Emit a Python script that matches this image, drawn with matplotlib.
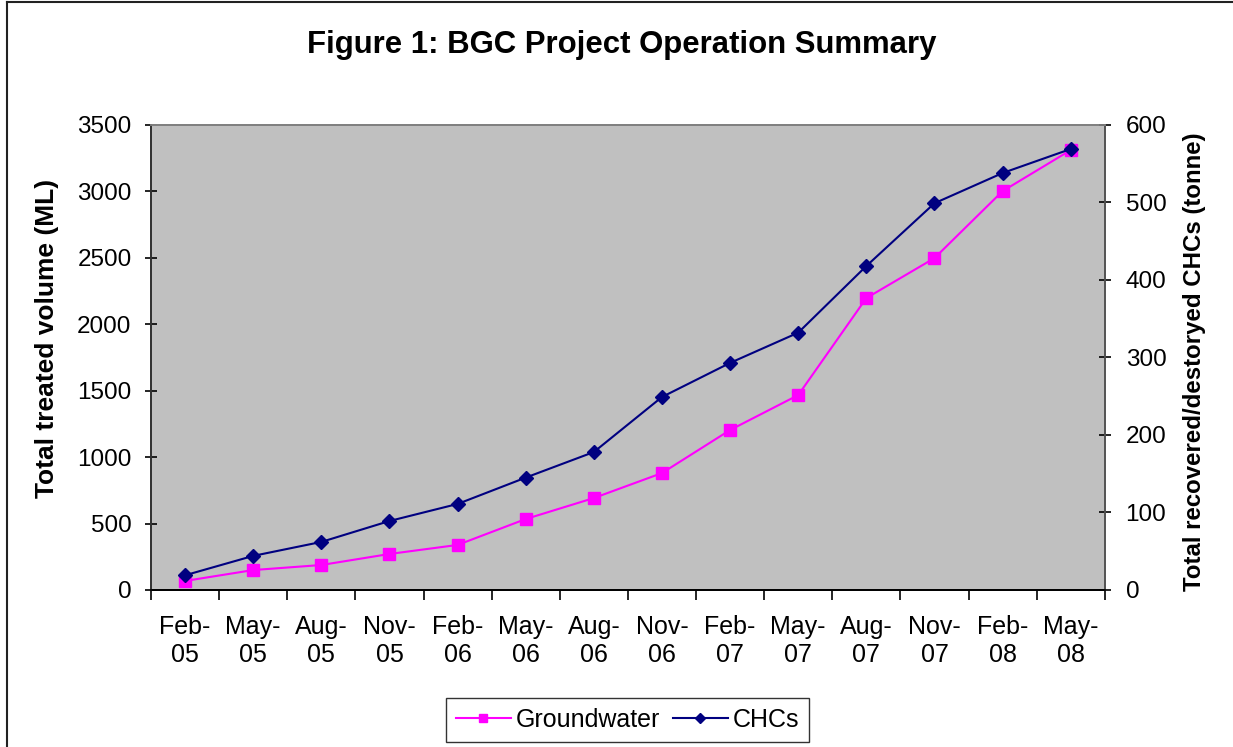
import numpy as np
import matplotlib.pyplot as plt
from matplotlib.lines import Line2D

plt.rcParams["font.family"] = ["Liberation Sans", "DejaVu Sans"]

# Data
months = ["Feb-\n05", "May-\n05", "Aug-\n05", "Nov-\n05", "Feb-\n06", "May-\n06", "Aug-\n06",
          "Nov-\n06", "Feb-\n07", "May-\n07", "Aug-\n07", "Nov-\n07", "Feb-\n08", "May-\n08"]
groundwater = [68, 150, 188, 271, 339, 534, 692, 880, 1204, 1467, 2197, 2498, 3002, 3311]
chcs = [19, 44, 62, 89, 111, 145, 178, 249, 293, 332, 418, 499, 538, 569]

GW_COLOR = "#FF00FF"
CHC_COLOR = "#000080"

fig = plt.figure(figsize=(12.33, 7.47), dpi=100)
ax1 = fig.add_axes([0.1225, 0.2102, 0.7735, 0.6225])
ax1.set_facecolor("#C0C0C0")

x = np.arange(len(months))
ax2 = ax1.twinx()

l1, = ax1.plot(x, groundwater, color=GW_COLOR, marker="s", markersize=8, linewidth=1.5,
               label="Groundwater", zorder=3)
l2, = ax2.plot(x, chcs, color=CHC_COLOR, marker="D", markersize=7, linewidth=1.5,
               label="CHCs", zorder=3)

ax1.set_xlim(-0.5, len(months) - 0.5)
ax1.set_ylim(0, 3500)
ax1.set_yticks(np.arange(0, 3501, 500))
ax2.set_ylim(0, 600)
ax2.set_yticks(np.arange(0, 601, 100))

ax1.set_xticks(x)
ax1.set_xticklabels(months, fontsize=18, linespacing=1.2)
ax1.set_xticks(np.arange(-0.5, len(months), 1), minor=True)
ax1.tick_params(axis="x", which="major", length=0, pad=18)
ax1.tick_params(axis="x", which="minor", length=7, width=1.2, direction="out")
ax1.tick_params(axis="y", labelsize=17.5, length=8, width=1.2, direction="inout", pad=10)
ax2.tick_params(axis="y", labelsize=17.5, length=8, width=1.2, direction="inout", pad=11)

ax1.set_ylabel("Total treated volume (ML)", fontsize=19, fontweight="bold")
ax1.yaxis.set_label_coords(-0.097, 0.54)
ax2.set_ylabel("Total recovered/destoryed CHCs (tonne)", fontsize=17.3, fontweight="bold")
ax2.yaxis.set_label_coords(1.082, 0.49)

for a in (ax1, ax2):
    a.spines["top"].set_color("#808080")
    a.spines["left"].set_color("#333333")
    a.spines["right"].set_color("#555555")
    a.spines["bottom"].set_color("black")
    for s in a.spines.values():
        s.set_linewidth(1.3)

fig.text(0.504, 0.94, "Figure 1: BGC Project Operation Summary", ha="center", va="center",
         fontsize=22.4, fontweight="bold")

leg = fig.legend(handles=[l1, l2], loc="center", bbox_to_anchor=(0.509, 0.036), ncol=2,
                 fontsize=18, frameon=True, fancybox=False, handlelength=2.2,
                 columnspacing=0.5, handletextpad=0.2, borderpad=0.4, markerscale=0.8)
leg.get_frame().set_edgecolor("black")
leg.get_frame().set_linewidth(1.0)

# figure border (left and top)
fig.add_artist(Line2D([0.0055, 0.0055], [0, 0.997], color="#222222", linewidth=1.5))
fig.add_artist(Line2D([0.0055, 1.0], [0.997, 0.997], color="#222222", linewidth=1.5))

fig.savefig("out.png", dpi=100)
